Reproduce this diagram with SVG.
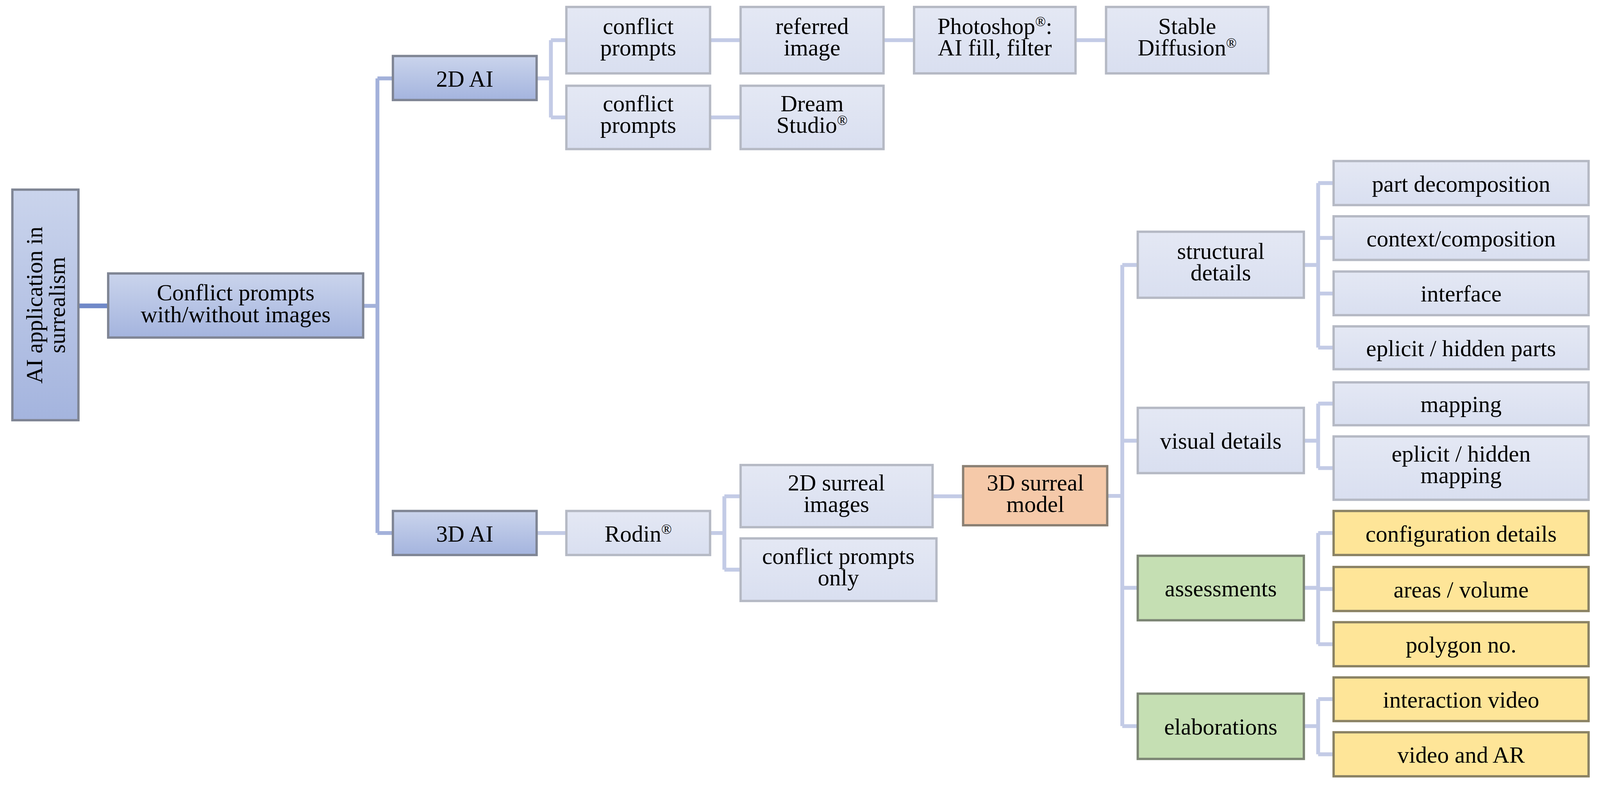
<svg xmlns="http://www.w3.org/2000/svg" width="4141" height="2046" viewBox="0 0 4141 2046">
<defs>
<linearGradient id="gd" x1="0" y1="0" x2="0" y2="1"><stop offset="0" stop-color="#cad4ec"/><stop offset="1" stop-color="#a4b4de"/></linearGradient>
<linearGradient id="gl" x1="0" y1="0" x2="0" y2="1"><stop offset="0" stop-color="#e4e8f4"/><stop offset="1" stop-color="#d9dff0"/></linearGradient>
</defs>
<style>
.d{fill:url(#gd);stroke:#7f8594;stroke-width:6}
.l{fill:url(#gl);stroke:#b5b9c4;stroke-width:6}
.p{fill:#f5c9a9;stroke:#8a8074;stroke-width:6}
.g{fill:#c5dfb3;stroke:#7c8574;stroke-width:6}
.y{fill:#fee598;stroke:#8a8264;stroke-width:6}
text{font-family:"Liberation Serif","DejaVu Serif",serif;font-size:60px;fill:#000;text-anchor:middle}
.r{font-size:36px;baseline-shift:super}
.c1{fill:none;stroke:#a3b1da;stroke-width:10}
.c2{fill:none;stroke:#c3cbe6;stroke-width:10}
</style>
<g transform="scale(0.989)">
<g id="connectors">
<path d="M203 792 H280" fill="none" stroke="#7089c8" stroke-width="12"/>
<path class="c1" d="M940 792 H977 M977 203 V1380 M977 203 H1017 M977 1380 H1017"/>
<path class="c2" d="M1389 203 H1426 M1426 104 V304 M1426 104 H1466 M1426 304 H1466 M1838 104 H1917 M2287 104 H2366 M2784 104 H2863 M1838 304 H1917"/>
<path class="c2" d="M1389 1380 H1466 M1838 1380 H1875 M1875 1285 V1475 M1875 1285 H1917 M1875 1475 H1917 M2414 1285 H2493 M2866 1284 H2905 M2905 686 V1880 M2905 686 H2945 M2905 1141 H2945 M2905 1522 H2945 M2905 1880 H2945"/>
<path class="c2" d="M3375 686 H3412 M3412 474 V900 M3412 474 H3452 M3412 616 H3452 M3412 760 H3452 M3412 900 H3452 M3375 1141 H3412 M3412 1045 V1212 M3412 1045 H3452 M3412 1212 H3452 M3375 1522 H3412 M3412 1380 V1668 M3412 1380 H3452 M3412 1525 H3452 M3412 1668 H3452 M3375 1880 H3412 M3412 1810 V1953 M3412 1810 H3452 M3412 1953 H3452"/>
</g>
<g id="root"><rect class="d" x="32" y="491" width="171" height="597"/><text transform="translate(117.5 790) rotate(-90)"><tspan x="0" y="-8">AI application in</tspan><tspan x="0" y="50">surrealism</tspan></text></g>
<g id="conflict"><rect class="d" x="280" y="708" width="660" height="166"/><text><tspan x="610" y="778">Conflict prompts</tspan><tspan x="610" y="834">with/without images</tspan></text></g>
<g id="ai2d"><rect class="d" x="1017" y="145" width="372" height="114"/><text x="1203" y="224">2D AI</text></g>
<g id="ai3d"><rect class="d" x="1017" y="1323" width="372" height="114"/><text x="1203" y="1402">3D AI</text></g>
<g id="cp1"><rect class="l" x="1466" y="18" width="372" height="172"/><text><tspan x="1652" y="88">conflict</tspan><tspan x="1652" y="144">prompts</tspan></text></g>
<g id="referred"><rect class="l" x="1917" y="18" width="370" height="172"/><text><tspan x="2102" y="88">referred</tspan><tspan x="2102" y="144">image</tspan></text></g>
<g id="photoshop"><rect class="l" x="2366" y="18" width="418" height="172"/><text><tspan x="2575" y="88">Photoshop<tspan class="r">®</tspan>:</tspan><tspan x="2575" y="144">AI fill, filter</tspan></text></g>
<g id="stable"><rect class="l" x="2863" y="18" width="420" height="172"/><text><tspan x="3073" y="88">Stable</tspan><tspan x="3073" y="144">Diffusion<tspan class="r">®</tspan></tspan></text></g>
<g id="cp2"><rect class="l" x="1466" y="222" width="372" height="164"/><text><tspan x="1652" y="288">conflict</tspan><tspan x="1652" y="344">prompts</tspan></text></g>
<g id="dream"><rect class="l" x="1917" y="222" width="370" height="164"/><text><tspan x="2102" y="288">Dream</tspan><tspan x="2102" y="344">Studio<tspan class="r">®</tspan></tspan></text></g>
<g id="rodin"><rect class="l" x="1466" y="1323" width="372" height="114"/><text x="1652" y="1402">Rodin<tspan class="r">®</tspan></text></g>
<g id="surreal2d"><rect class="l" x="1917" y="1204" width="497" height="161"/><text><tspan x="2165" y="1270">2D surreal</tspan><tspan x="2165" y="1326">images</tspan></text></g>
<g id="cponly"><rect class="l" x="1917" y="1394" width="507" height="162"/><text><tspan x="2170" y="1460">conflict prompts</tspan><tspan x="2170" y="1516">only</tspan></text></g>
<g id="model3d"><rect class="p" x="2493" y="1207" width="373" height="153"/><text><tspan x="2680" y="1270">3D surreal</tspan><tspan x="2680" y="1326">model</tspan></text></g>
<g id="structural"><rect class="l" x="2945" y="600" width="430" height="171"/><text><tspan x="3160" y="670">structural</tspan><tspan x="3160" y="726">details</tspan></text></g>
<g id="visual"><rect class="l" x="2945" y="1056" width="430" height="169"/><text x="3160" y="1162">visual details</text></g>
<g id="assess"><rect class="g" x="2945" y="1439" width="430" height="167"/><text x="3160" y="1544">assessments</text></g>
<g id="elab"><rect class="g" x="2945" y="1796" width="430" height="169"/><text x="3160" y="1902">elaborations</text></g>
<g id="part"><rect class="l" x="3452" y="417" width="660" height="114"/><text x="3782" y="496">part decomposition</text></g>
<g id="context"><rect class="l" x="3452" y="560" width="660" height="113"/><text x="3782" y="638">context/composition</text></g>
<g id="interface"><rect class="l" x="3452" y="703" width="660" height="113"/><text x="3782" y="781">interface</text></g>
<g id="hiddenparts"><rect class="l" x="3452" y="845" width="660" height="111"/><text x="3782" y="922">eplicit / hidden parts</text></g>
<g id="mapping"><rect class="l" x="3452" y="990" width="660" height="111"/><text x="3782" y="1067">mapping</text></g>
<g id="hiddenmap"><rect class="l" x="3452" y="1130" width="660" height="164"/><text><tspan x="3782" y="1195">eplicit / hidden</tspan><tspan x="3782" y="1251">mapping</tspan></text></g>
<g id="config"><rect class="y" x="3452" y="1323" width="660" height="114"/><text x="3782" y="1402">configuration details</text></g>
<g id="areas"><rect class="y" x="3452" y="1468" width="660" height="114"/><text x="3782" y="1547">areas / volume</text></g>
<g id="polygon"><rect class="y" x="3452" y="1611" width="660" height="114"/><text x="3782" y="1690">polygon no.</text></g>
<g id="interaction"><rect class="y" x="3452" y="1754" width="660" height="113"/><text x="3782" y="1832">interaction video</text></g>
<g id="videoar"><rect class="y" x="3452" y="1896" width="660" height="114"/><text x="3782" y="1975">video and AR</text></g>
</g>
</svg>
